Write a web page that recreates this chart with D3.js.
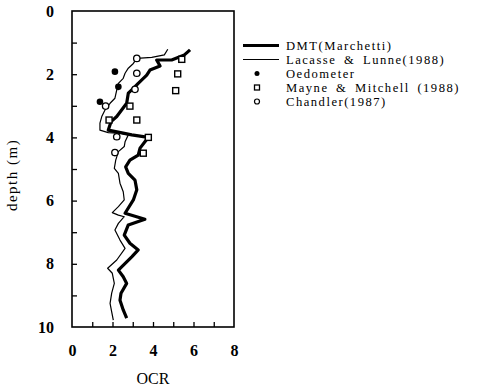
<!DOCTYPE html>
<html><head><meta charset="utf-8">
<script src="https://cdn.jsdelivr.net/npm/d3@7"></script>
<style>body{margin:0;background:#fff}svg{display:block}text{font-family:"Liberation Serif","Times New Roman",serif;fill:#000}</style>
</head><body>
<svg id="c" width="492" height="388"></svg>
<script>
// DMT (Marchetti): [OCR, depth]
const dmtOCR   = [5.83,5.55,4.92,4.18,4.35,3.85,3.69,3.27,3.03,2.78,2.70,2.45,2.21,1.93,1.79,2.95,3.77,3.60,3.36,3.27,2.86,2.65,2.78,3.11,3.20,3.03,2.62,3.60,2.78,2.58,2.86,3.27,2.95,2.29,2.53,2.70,2.42,2.37,2.53,2.70];
const dmtDepth = [1.23,1.39,1.55,1.55,1.74,1.87,2.03,2.29,2.45,2.60,2.92,3.13,3.34,3.50,3.77,3.92,4.00,4.14,4.34,4.56,4.72,4.93,5.14,5.35,5.66,5.98,6.40,6.59,6.77,7.09,7.35,7.56,7.78,8.20,8.41,8.62,8.93,9.15,9.46,9.72];
// Lacasse & Lunne (1988)
const llOCR   = [4.73,4.56,3.94,3.20,3.03,2.78,2.62,2.53,2.29,2.21,2.12,1.88,1.63,1.47,1.38,1.38,1.79,2.45,2.78,2.62,2.58,2.29,2.16,2.09,2.29,2.37,2.53,2.58,2.29,1.99,2.29,2.58,2.29,2.12,2.37,2.62,2.21,1.76,1.99,2.09,1.96,1.88,1.96,2.04];
const llDepth = [1.21,1.39,1.47,1.50,1.66,1.81,1.97,2.13,2.29,2.50,2.76,2.92,3.13,3.34,3.55,3.77,3.85,3.87,3.92,4.14,4.29,4.45,4.72,4.98,5.14,5.45,5.72,5.98,6.19,6.38,6.46,6.51,6.72,6.93,7.25,7.51,7.88,8.14,8.30,8.62,8.93,9.25,9.52,9.78];
// Oedometer
const oedOCR   = [2.12,2.29,1.38];
const oedDepth = [1.92,2.40,2.87];
// Mayne & Mitchell (1988)
const mmOCR   = [5.42,5.22,5.12,2.86,1.83,3.20,3.77,3.52];
const mmDepth = [1.53,1.99,2.52,3.01,3.45,3.45,4.00,4.50];
// Chandler (1987)
const chOCR   = [3.20,3.20,3.11,1.66,2.21,2.12];
const chDepth = [1.50,1.97,2.48,3.01,3.98,4.48];
// axes
const xLabelTicks = [0,2,4,6,8];
const yLabelTicks = [0,2,4,6,8,10];
const xMinorTicks = [1,2,3,4,5,6,7];
const yMinorTicks = [1,2,3,4,5,6,7,8,9];
const legendLabels = ["DMT(Marchetti)","Lacasse & Lunne(1988)","Oedometer","Mayne & Mitchell (1988)","Chandler(1987)"];

const svg = d3.select("#c");
const L=72,R=234,T=11,B=327;
const x = d3.scaleLinear().domain([0,8]).range([L,R]);
const y = d3.scaleLinear().domain([0,10]).range([T,B]);

// minor ticks (inside)
svg.append("g").attr("transform",`translate(0,${B})`)
  .call(d3.axisBottom(x).tickValues(xMinorTicks).tickSizeInner(-5).tickSizeOuter(0).tickFormat(""))
  .call(g=>g.select(".domain").remove())
  .call(g=>g.selectAll("line").attr("stroke","#000").attr("stroke-width",1.3));
svg.append("g").attr("transform",`translate(${L},0)`)
  .call(d3.axisLeft(y).tickValues(yMinorTicks).tickSizeInner(-5).tickSizeOuter(0).tickFormat(""))
  .call(g=>g.select(".domain").remove())
  .call(g=>g.selectAll("line").attr("stroke","#000").attr("stroke-width",1.3));
// labels
svg.append("g").attr("transform",`translate(0,${B})`)
  .call(d3.axisBottom(x).tickValues(xLabelTicks).tickSize(0).tickPadding(18).tickFormat(d3.format("d")))
  .call(g=>g.select(".domain").remove())
  .call(g=>g.selectAll("text").attr("font-size",16).attr("font-family","Liberation Serif").attr("font-weight","bold").attr("fill","#000"));
svg.append("g").attr("transform",`translate(${L},0)`)
  .call(d3.axisLeft(y).tickValues(yLabelTicks).tickSize(0).tickPadding(18).tickFormat(d3.format("d")))
  .call(g=>g.select(".domain").remove())
  .call(g=>g.selectAll("text").attr("font-size",16).attr("font-family","Liberation Serif").attr("font-weight","bold").attr("fill","#000"));
// frame
svg.append("rect").attr("x",L).attr("y",T).attr("width",R-L).attr("height",B-T)
  .attr("fill","none").attr("stroke","#000").attr("stroke-width",1.6);

const line = d3.line().x(d=>x(d[0])).y(d=>y(d[1]));
svg.append("path").datum(llOCR.map((v,i)=>[v,llDepth[i]])).attr("d",line)
  .attr("fill","none").attr("stroke","#000").attr("stroke-width",1.2).attr("stroke-linejoin","round");
svg.append("path").datum(dmtOCR.map((v,i)=>[v,dmtDepth[i]])).attr("d",line)
  .attr("fill","none").attr("stroke","#000").attr("stroke-width",3.2).attr("stroke-linejoin","round");

svg.selectAll(".sq").data(mmOCR.map((v,i)=>[v,mmDepth[i]])).join("rect")
  .attr("x",d=>x(d[0])-3).attr("y",d=>y(d[1])-3).attr("width",6).attr("height",6)
  .attr("fill","#fff").attr("stroke","#000").attr("stroke-width",1.4);
svg.selectAll(".ci").data(chOCR.map((v,i)=>[v,chDepth[i]])).join("circle")
  .attr("cx",d=>x(d[0])).attr("cy",d=>y(d[1])).attr("r",3.2)
  .attr("fill","#fff").attr("stroke","#000").attr("stroke-width",1.3);
svg.selectAll(".oe").data(oedOCR.map((v,i)=>[v,oedDepth[i]])).join("circle")
  .attr("cx",d=>x(d[0])).attr("cy",d=>y(d[1])).attr("r",3.3).attr("fill","#000");

// axis titles
svg.append("text").attr("x",153).attr("y",384).attr("text-anchor","middle").attr("font-size",16).text("OCR");
svg.append("text").attr("transform","translate(17,175) rotate(-90)").attr("text-anchor","middle").attr("font-size",15).attr("letter-spacing",1.5).text("depth (m)");

// legend
const lg = svg.append("g");
const ly = [45.5,59.5,73.5,87.5,101.5];
lg.append("line").attr("x1",243).attr("x2",279).attr("y1",ly[0]).attr("y2",ly[0]).attr("stroke","#000").attr("stroke-width",3.2);
lg.append("line").attr("x1",243).attr("x2",279).attr("y1",ly[1]).attr("y2",ly[1]).attr("stroke","#000").attr("stroke-width",1.2);
lg.append("circle").attr("cx",257).attr("cy",ly[2]).attr("r",2.5).attr("fill","#000");
lg.append("rect").attr("x",254.5).attr("y",ly[3]-2.5).attr("width",5).attr("height",5).attr("fill","#fff").attr("stroke","#000").attr("stroke-width",1.3);
lg.append("circle").attr("cx",257).attr("cy",ly[4]).attr("r",2.5).attr("fill","#fff").attr("stroke","#000").attr("stroke-width",1.2);
lg.selectAll("text.lg").data(legendLabels).join("text").attr("class","lg")
  .attr("x",286).attr("y",(d,i)=>ly[i]+4.2).attr("font-size",12.6).attr("letter-spacing",1.5).attr("word-spacing",3).text(d=>d);
</script>
</body></html>
